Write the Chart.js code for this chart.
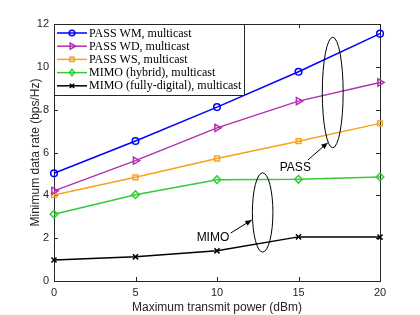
<!DOCTYPE html>
<html>
<head>
<meta charset="utf-8">
<script src="https://cdn.jsdelivr.net/npm/chart.js@4.4.0/dist/chart.umd.min.js"></script>
<style>
  html, body { margin: 0; padding: 0; background: #fff; }
  #wrap { width: 420px; height: 315px; }
</style>
</head>
<body>
<div id="wrap"><canvas id="rateChart" width="420" height="315"></canvas></div>
<script>
// Data
const powers = [0, 5, 10, 15, 20];
const passWM = [5.03, 6.54, 8.12, 9.77, 11.55];
const passWD = [4.21, 5.62, 7.15, 8.40, 9.27];
const passWS = [4.02, 4.84, 5.72, 6.53, 7.36];
const mimoHybrid = [3.12, 4.03, 4.73, 4.75, 4.86];
const mimoDigital = [0.98, 1.13, 1.41, 2.06, 2.05];

const seriesNames = [
    'PASS WM, multicast',
    'PASS WD, multicast',
    'PASS WS, multicast',
    'MIMO (hybrid), multicast',
    'MIMO (fully-digital), multicast'
];
const xTicks = [0, 5, 10, 15, 20];
const yTicks = [0, 2, 4, 6, 8, 10, 12];

const styles = [
    { color: '#0000ff', point: 'circle', rotation: 0, radius: 3.3 },
    { color: '#b030b0', point: 'triangle', rotation: 90, radius: 4.2 },
    { color: '#f7a21b', point: 'rect', rotation: 0, radius: 3.4 },
    { color: '#33cc33', point: 'rectRot', rotation: 0, radius: 3.8 },
    { color: '#000000', point: 'crossRot', rotation: 0, radius: 3.6 }
];

const allSeries = [passWM, passWD, passWS, mimoHybrid, mimoDigital];

const datasets = allSeries.map((vals, i) => ({
    label: seriesNames[i],
    data: powers.map((p, k) => ({ x: p, y: vals[k] })),
    borderColor: styles[i].color,
    backgroundColor: 'rgba(0,0,0,0)',
    borderWidth: 1.5,
    pointStyle: styles[i].point,
    pointRotation: styles[i].rotation,
    pointRadius: styles[i].radius,
    pointBorderWidth: 1.5,
    pointBorderColor: styles[i].color,
    pointBackgroundColor: 'rgba(0,0,0,0)',
    tension: 0,
    clip: false
}));

// Ellipse / arrow callouts, in data units
const callouts = [
    { text: 'PASS', cx: 17.1, cy: 8.8, rx: 0.64, ry: 2.58,
      textX: 13.85, textY: 5.3, from: [15.58, 5.65], to: [16.79, 6.46] },
    { text: 'MIMO', cx: 12.8, cy: 3.2, rx: 0.63, ry: 1.85,
      textX: 8.75, textY: 2.0, from: [10.84, 2.24], to: [12.13, 2.85] }
];

function drawMarker(ctx, style, x, y, r) {
    ctx.save();
    ctx.strokeStyle = style.color;
    ctx.lineWidth = 1.5;
    ctx.beginPath();
    if (style.point === 'circle') {
        ctx.arc(x, y, r, 0, Math.PI * 2);
    } else if (style.point === 'triangle') {
        ctx.moveTo(x + r, y);
        ctx.lineTo(x - r * 0.5, y - r * 0.87);
        ctx.lineTo(x - r * 0.5, y + r * 0.87);
        ctx.closePath();
    } else if (style.point === 'rect') {
        ctx.rect(x - r * 0.75, y - r * 0.75, r * 1.5, r * 1.5);
    } else if (style.point === 'rectRot') {
        ctx.moveTo(x, y - r);
        ctx.lineTo(x + r * 0.75, y);
        ctx.lineTo(x, y + r);
        ctx.lineTo(x - r * 0.75, y);
        ctx.closePath();
    } else {
        const d = r * 0.7;
        ctx.moveTo(x - d, y - d); ctx.lineTo(x + d, y + d);
        ctx.moveTo(x + d, y - d); ctx.lineTo(x - d, y + d);
    }
    ctx.stroke();
    ctx.restore();
}

const framePlugin = {
    id: 'frame',
    beforeDatasetsDraw(chart) {
        const { ctx, chartArea: a, scales } = chart;
        ctx.save();
        ctx.strokeStyle = '#262626';
        ctx.lineWidth = 1;
        ctx.strokeRect(Math.round(a.left) + 0.5, Math.round(a.top) + 0.5,
            Math.round(a.right - a.left), Math.round(a.bottom - a.top));
        ctx.beginPath();
        xTicks.forEach(v => {
            const px = Math.round(scales.x.getPixelForValue(v)) + 0.5;
            ctx.moveTo(px, a.bottom); ctx.lineTo(px, a.bottom - 4);
            ctx.moveTo(px, a.top); ctx.lineTo(px, a.top + 4);
        });
        yTicks.forEach(v => {
            const py = Math.round(scales.y.getPixelForValue(v)) + 0.5;
            ctx.moveTo(a.left, py); ctx.lineTo(a.left + 4, py);
            ctx.moveTo(a.right, py); ctx.lineTo(a.right - 4, py);
        });
        ctx.stroke();
        ctx.restore();
    },
    afterDatasetsDraw(chart) {
        const { ctx, chartArea: a, scales } = chart;
        const X = v => scales.x.getPixelForValue(v);
        const Y = v => scales.y.getPixelForValue(v);

        // callouts
        ctx.save();
        ctx.strokeStyle = '#000';
        ctx.fillStyle = '#000';
        ctx.lineWidth = 1;
        ctx.font = '12px "Liberation Sans", Arial, sans-serif';
        ctx.textBaseline = 'middle';
        ctx.textAlign = 'left';
        callouts.forEach(c => {
            const cx = X(c.cx), cy = Y(c.cy);
            const rx = X(c.cx + c.rx) - cx, ry = cy - Y(c.cy + c.ry);
            ctx.beginPath();
            ctx.ellipse(cx, cy, rx, ry, 0, 0, Math.PI * 2);
            ctx.stroke();
            ctx.fillText(c.text, X(c.textX), Y(c.textY));
            const x1 = X(c.from[0]), y1 = Y(c.from[1]);
            const x2 = X(c.to[0]), y2 = Y(c.to[1]);
            ctx.beginPath();
            ctx.moveTo(x1, y1); ctx.lineTo(x2, y2);
            ctx.stroke();
            const ang = Math.atan2(y2 - y1, x2 - x1);
            ctx.beginPath();
            ctx.moveTo(x2, y2);
            ctx.lineTo(x2 - 7 * Math.cos(ang - 0.4), y2 - 7 * Math.sin(ang - 0.4));
            ctx.lineTo(x2 - 7 * Math.cos(ang + 0.4), y2 - 7 * Math.sin(ang + 0.4));
            ctx.closePath();
            ctx.fill();
        });
        ctx.restore();

        // legend box in the top-left corner
        const lx = Math.round(a.left) + 0.5, ly = Math.round(a.top) + 0.5;
        const lw = 190, rowH = 13.2, lh = 71;
        ctx.save();
        ctx.fillStyle = '#fff';
        ctx.fillRect(lx, ly, lw, lh);
        ctx.strokeStyle = '#262626';
        ctx.lineWidth = 1;
        ctx.strokeRect(lx, ly, lw, lh);
        ctx.font = '12px "Liberation Serif", "Times New Roman", serif';
        ctx.textBaseline = 'middle';
        ctx.textAlign = 'left';
        seriesNames.forEach((name, i) => {
            const y = ly + 8.5 + i * rowH;
            ctx.strokeStyle = styles[i].color;
            ctx.lineWidth = 1.5;
            ctx.beginPath();
            ctx.moveTo(lx + 2.5, y); ctx.lineTo(lx + 32.5, y);
            ctx.stroke();
            drawMarker(ctx, styles[i], lx + 17.5, y, styles[i].radius * 0.85);
            ctx.fillStyle = '#000';
            ctx.fillText(name, lx + 34.5, y + 0.5);
        });
        ctx.restore();
    }
};

new Chart(document.getElementById('rateChart'), {
    type: 'line',
    data: { datasets: datasets },
    options: {
        responsive: false,
        animation: false,
        devicePixelRatio: 1,
        layout: { padding: { top: 24, right: 40, left: 0, bottom: 0 } },
        plugins: {
            legend: { display: false },
            tooltip: { enabled: false }
        },
        scales: {
            x: {
                type: 'linear',
                min: 0,
                max: 20,
                afterBuildTicks: s => { s.ticks = xTicks.map(v => ({ value: v })); },
                afterFit: s => { s.height = 34; },
                grid: { display: false, drawTicks: false },
                border: { display: false },
                ticks: {
                    color: '#262626',
                    padding: 5,
                    maxRotation: 0,
                    font: { family: '"Liberation Sans", Arial, sans-serif', size: 11 }
                },
                title: {
                    display: true,
                    text: 'Maximum transmit power (dBm)',
                    color: '#262626',
                    padding: { top: 1, bottom: 0 },
                    font: { family: '"Liberation Sans", Arial, sans-serif', size: 12 }
                }
            },
            y: {
                type: 'linear',
                min: 0,
                max: 12,
                afterBuildTicks: s => { s.ticks = yTicks.map(v => ({ value: v })); },
                afterFit: s => { s.width = 54; },
                grid: { display: false, drawTicks: false },
                border: { display: false },
                ticks: {
                    color: '#262626',
                    padding: 5,
                    font: { family: '"Liberation Sans", Arial, sans-serif', size: 11 }
                },
                title: {
                    display: true,
                    text: 'Minimum data rate (bps/Hz)',
                    color: '#262626',
                    padding: { top: 28, bottom: 0 },
                    font: { family: '"Liberation Sans", Arial, sans-serif', size: 12 }
                }
            }
        }
    },
    plugins: [framePlugin]
});
</script>
</body>
</html>
